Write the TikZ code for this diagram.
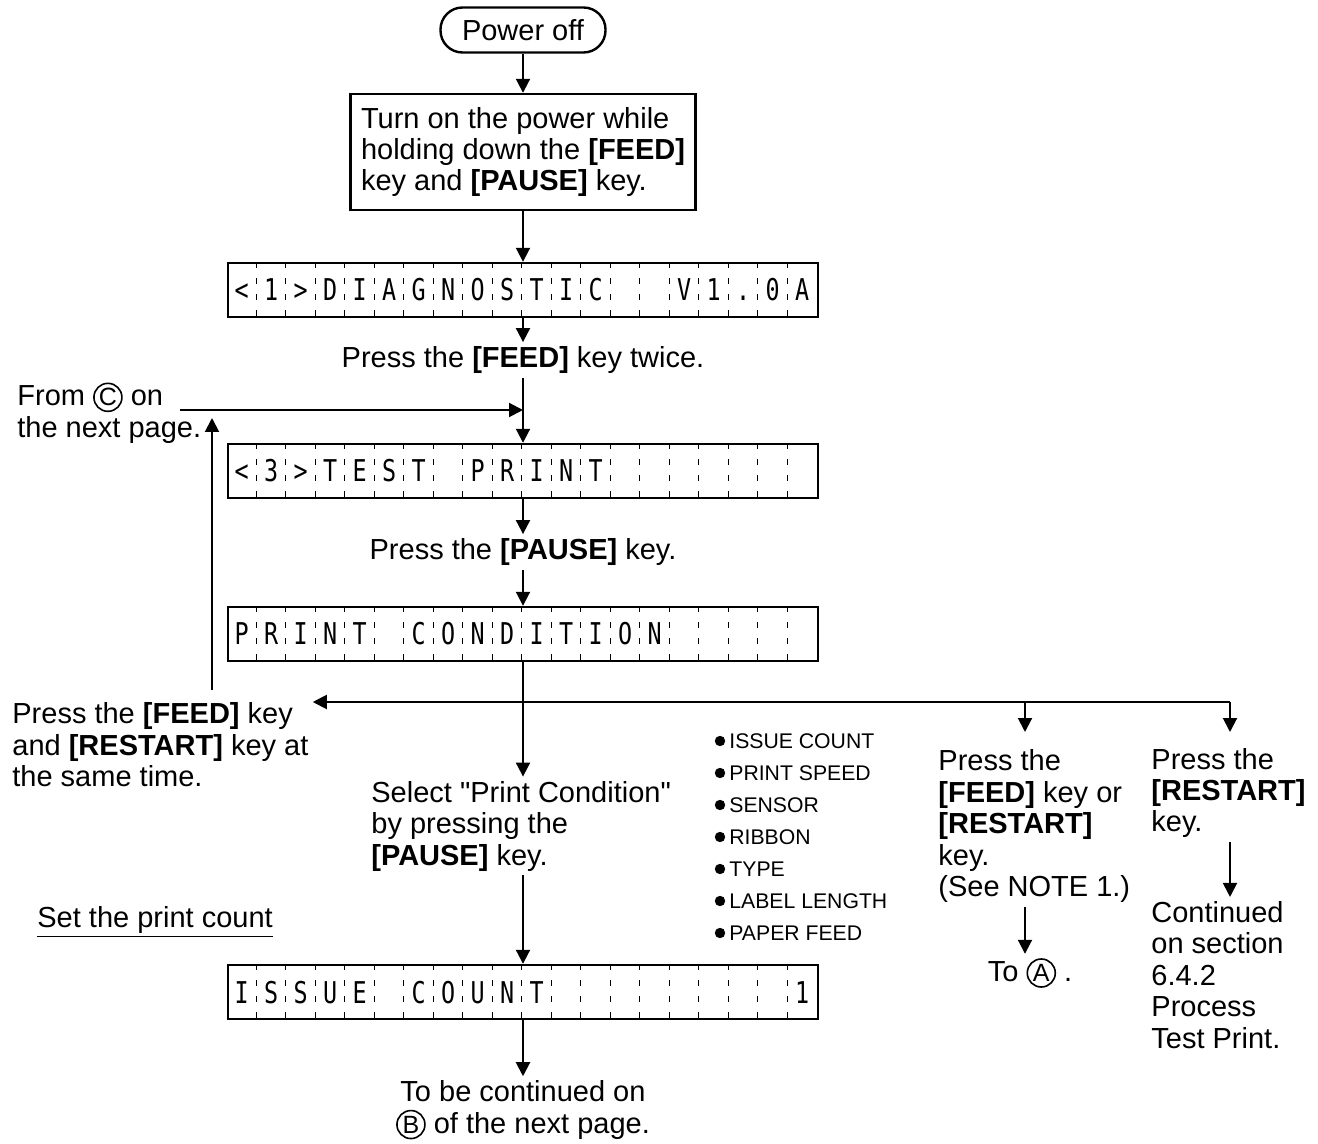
\documentclass[tikz,border=0pt]{standalone}
\usepackage{fontspec}
\setmainfont{Liberation Sans}
\newfontfamily\lcdfont[FakeStretch=0.78]{DejaVu Sans Mono}
\usepackage{tikz}
\usetikzlibrary{arrows.meta,calc,positioning}

% circled reference letter
\newcommand{\enc}[1]{\tikz[baseline=(enc#1.base)]\node[circle, draw, line width=0.8pt, inner sep=0.4pt, minimum size=14pt, font=\fontsize{12.5}{13}\selectfont] (enc#1) {#1};}

\begin{document}
\begin{tikzpicture}[
  x=0.5pt, y=-0.5pt,
  txt/.style={font=\fontsize{14.5}{15.75}\selectfont, inner sep=2pt, align=left},
  small/.style={font=\fontsize{10.6}{12}\selectfont, inner sep=1pt, anchor=west},
  box/.style={draw, line width=1.2pt, minimum width=172.5pt, minimum height=58pt, align=left, font=\fontsize{14.5}{15.5}\selectfont},
  pill/.style={draw, line width=1.2pt, rounded corners=11pt, minimum width=82.5pt, minimum height=22.5pt, font=\fontsize{14.5}{16}\selectfont},
  lcd/.style={draw, line width=1.2pt, minimum width=295pt, minimum height=27pt, inner sep=0pt},
  cell/.style={font=\lcdfont\fontsize{15}{16}\selectfont, inner sep=0pt, anchor=base},
  tick/.style={line width=0.6pt, dash pattern=on 3pt off 5pt},
  arrow/.style={-{Triangle[length=7pt,width=7pt]}, line width=1pt},
  line/.style={line width=1pt}
]
\useasboundingbox (0,0) rectangle (1318,1144);

% Main column
\node[pill] (off) at (523,30) {Power off};
\node[box] (turnon) at (523,152) {Turn on the power while\\holding down the \textbf{[FEED]}\\key and \textbf{[PAUSE]} key.};

\node[lcd] (lcd1) at (523,290) {};
\foreach \c [count=\i] in {<,1,>,D,I,A,G,N,O,S,T,I,C,,,V,1,.,0,A}
  \node[cell] (lcd1c\i) at ($(lcd1.west)+(\i*29.5-14.75,11)$) {\c};

\node[txt] (feed2) at (523,360) {Press the \textbf{[FEED]} key twice.};

\node[lcd] (lcd2) at (523,471) {};
\foreach \c [count=\i] in {<,3,>,T,E,S,T,,P,R,I,N,T,,,,,,,}
  \node[cell] (lcd2c\i) at ($(lcd2.west)+(\i*29.5-14.75,11)$) {\c};

\node[txt] (pause1) at (523,552) {Press the \textbf{[PAUSE]} key.};

\node[lcd] (lcd3) at (523,634) {};
\foreach \c [count=\i] in {P,R,I,N,T,,C,O,N,D,I,T,I,O,N,,,,,}
  \node[cell] (lcd3c\i) at ($(lcd3.west)+(\i*29.5-14.75,11)$) {\c};

\node[txt, anchor=west] (select) at (367,826) {Select \textquotedbl Print Condition\textquotedbl\\by pressing the\\\textbf{[PAUSE]} key.};

\node[lcd] (lcd4) at (523,992) {};
\foreach \c [count=\i] in {I,S,S,U,E,,C,O,U,N,T,,,,,,,,,1}
  \node[cell] (lcd4c\i) at ($(lcd4.west)+(\i*29.5-14.75,11)$) {\c};

\node[txt, align=center] (contB) at (523,1110) {To be continued on\\\enc{B} of the next page.};

% LCD cell dividers
\foreach \d in {lcd1,lcd2,lcd3,lcd4}
  \foreach \i in {1,...,19}
    \draw[tick] ($(\d.north west)+(\i*29.5,0)$) -- ($(\d.south west)+(\i*29.5,0)$);

\draw[arrow] (off) -- (turnon);
\draw[arrow] (turnon) -- (lcd1);
\draw[arrow] (lcd1) -- (feed2);
\draw[arrow] (feed2) -- (lcd2);
\draw[arrow] (lcd2) -- (pause1);
\draw[arrow] (pause1) -- (lcd3);
\draw[arrow] (lcd3) -- (lcd3.south |- select.north);
\draw[arrow] (lcd3.south |- select.south) -- (lcd4);
\draw[arrow] (lcd4) -- (contB);

% Left side: loop back
\node[txt, anchor=west] (fromC) at (13,413) {From \enc{C} on\\the next page.};
\coordinate (cstart) at (180,410);
\coordinate (cjoin) at (523,410);
\draw[arrow] (cstart) -- (cjoin);

\node[txt, anchor=west] (feedrst) at (8,745) {Press the \textbf{[FEED]} key\\and \textbf{[RESTART]} key at\\the same time.};
\coordinate (upfoot) at (212,690);
\coordinate (uptop) at (212,418);
\draw[arrow] (upfoot) -- (uptop);

\coordinate (split) at (523,702);
\draw[arrow] (split) -- (feedrst.east |- split);

\node[txt, anchor=west] (setpc) at (33,922) {\underline{Set the print count}};

% Right side: branches
\coordinate (midend) at (1025,702);
\coordinate (rightend) at (1230,702);
\coordinate (tipM) at (1025,732);
\coordinate (tipR) at (1230,732);
\draw[line] (split) -- (rightend);
\draw[arrow] (midend) -- (tipM);
\draw[arrow] (rightend) -- (tipR);

\foreach \t [count=\i] in {ISSUE COUNT,PRINT SPEED,SENSOR,RIBBON,TYPE,LABEL LENGTH,PAPER FEED} {
  \fill (720,{741+32*(\i-1)}) circle (2.6pt);
  \node[small] (item\i) at (727,{741+32*(\i-1)}) {\t};
}

\node[txt, anchor=west] (feedor) at (934,826) {Press the\\\textbf{[FEED]} key or\\\textbf{[RESTART]}\\key.\\(See NOTE 1.)};
\node[txt] (toA) at (1030,973) {To \enc{A} .};
\draw[arrow] (feedor.south -| midend) -- (midend |- toA.north);

\node[txt, anchor=west] (rstkey) at (1147,793) {Press the\\\textbf{[RESTART]}\\key.};
\node[txt, anchor=west] (contsec) at (1147,975) {Continued\\on section\\6.4.2\\Process\\Test Print.};
\draw[arrow] (rstkey.south -| rightend) -- (rightend |- contsec.north);

\end{tikzpicture}
\end{document}
